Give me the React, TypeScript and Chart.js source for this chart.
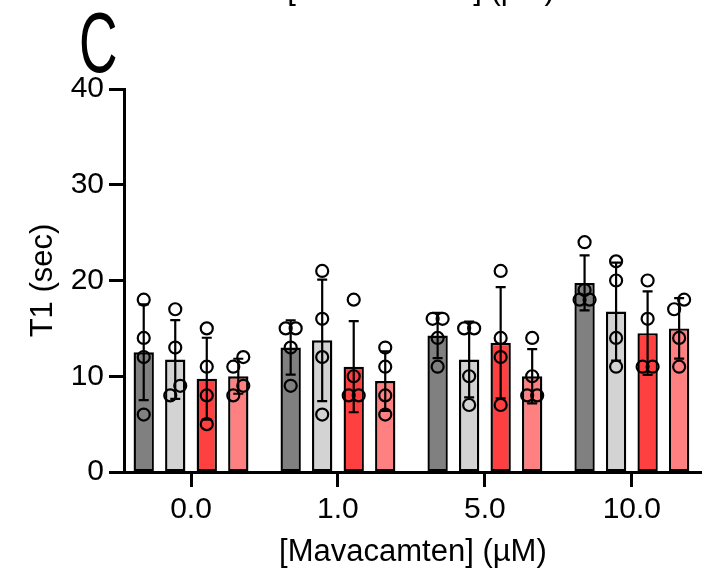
import React, { useEffect, useRef } from "react";
import { Chart, registerables } from "chart.js";

Chart.register(...registerables);

// ---- data ----
const doses = ["0.0", "1.0", "5.0", "10.0"];
const seriesNames = ["Series 1", "Series 2", "Series 3", "Series 4"];
// individual replicate values (T1, sec) per dose group
const darkGrayPoints = [
  [18, 14, 12, 6],
  [15, 15, 13, 9],
  [16, 16, 14, 11],
  [24, 19, 18, 18],
];
const lightGrayPoints = [
  [17, 13, 9, 8],
  [21, 16, 12, 6],
  [15, 15, 10, 7],
  [22, 20, 14, 11],
];
const redPoints = [
  [15, 11, 8, 5],
  [18, 10, 8, 8],
  [21, 14, 12, 7],
  [20, 16, 11, 11],
];
const pinkPoints = [
  [12, 11, 9, 8],
  [13, 11, 8, 6],
  [14, 10, 8, 8],
  [18, 17, 14, 11],
];
const yTicks = [0, 10, 20, 30, 40];
const xTitle = "[Mavacamten] (µM)";
const yTitle = "T1 (sec)";
const panelLetter = "C";
const clippedTitle = "[Mavacamten] (µM)";

// ---- styles ----
const FONT = "'Liberation Sans', Arial, Helvetica, sans-serif";
const COLORS = ["#808080", "#d3d3d3", "#ff4040", "#ff8080"];
const X_MIN = -0.456; // x range in group units (groups at 0..3)
const X_MAX = 3.476;
const GROUP_SPAN = 0.858; // fraction of a group taken by the 4 bars
const BAR_FILL = 0.645; // bar width / bar slot
const JIT = 0.034; // horizontal spread of overlapping points, in group units

function mean(a: number[]) {
  return a.reduce((s, v) => s + v, 0) / a.length;
}
function sd(a: number[]) {
  const m = mean(a);
  return Math.sqrt(a.reduce((s, v) => s + (v - m) * (v - m), 0) / (a.length - 1));
}
// spread points whose values nearly coincide, like GraphPad's scatter
function spread(values: number[]): number[] {
  const idx = values.map((_, i) => i).sort((a, b) => values[b] - values[a]);
  const off = new Array(values.length).fill(0);
  let k = 0;
  while (k < idx.length) {
    let e = k;
    while (e + 1 < idx.length && values[idx[e]] - values[idx[e + 1]] <= 1) e++;
    const n = e - k + 1;
    const pattern = n === 1 ? [0] : n === 2 ? [1, -1] : n === 3 ? [0, -1, 1] : [1, -1, 1, -1, 0];
    for (let t = 0; t < n; t++) off[idx[k + t]] = pattern[t % pattern.length];
    k = e + 1;
  }
  return off;
}
const slotX = (group: number, series: number) => group + ((series - 1.5) * GROUP_SPAN) / 4;

const allPoints = [darkGrayPoints, lightGrayPoints, redPoints, pinkPoints];

const errorBarPlugin = {
  id: "errorBars",
  afterDatasetDraw(chart: any, args: any) {
    const ds = chart.data.datasets[args.index];
    if (!ds.sdValues) return;
    const y = chart.scales.y;
    const ctx = chart.ctx;
    ctx.save();
    ctx.strokeStyle = "#000";
    ctx.lineWidth = 2.2;
    args.meta.data.forEach((bar: any, k: number) => {
      const m = ds.data[k].y;
      const s = ds.sdValues[k];
      const x = bar.x;
      const yt = y.getPixelForValue(m + s);
      const yb = y.getPixelForValue(m - s);
      ctx.beginPath();
      ctx.moveTo(x, yt);
      ctx.lineTo(x, yb);
      ctx.moveTo(x - 5, yt);
      ctx.lineTo(x + 5, yt);
      ctx.moveTo(x - 5, yb);
      ctx.lineTo(x + 5, yb);
      ctx.stroke();
    });
    ctx.restore();
  },
};

const textPlugin = {
  id: "extraText",
  afterDraw(chart: any) {
    const ctx = chart.ctx;
    ctx.save();
    ctx.fillStyle = "#000";
    // clipped title of the panel above
    ctx.font = `31px ${FONT}`;
    ctx.textAlign = "center";
    ctx.textBaseline = "alphabetic";
    ctx.fillText(clippedTitle, 421, -1);
    // panel letter
    ctx.translate(79, 72);
    ctx.scale(0.62, 1);
    ctx.font = `86px ${FONT}`;
    ctx.textAlign = "left";
    ctx.fillText(panelLetter, 0, 0);
    ctx.restore();
  },
};

export default function App() {
  const ref = useRef<HTMLCanvasElement | null>(null);

  useEffect(() => {
    if (!ref.current) return;
    const barDatasets = allPoints.map((pts, j) => ({
      type: "bar" as const,
      label: seriesNames[j],
      data: pts.map((grp, i) => ({ x: slotX(i, j), y: mean(grp) })),
      sdValues: pts.map(sd),
      backgroundColor: COLORS[j],
      borderColor: "#000",
      borderWidth: 2.4,
      borderSkipped: false,
      grouped: false,
      categoryPercentage: 1,
      barPercentage: BAR_FILL,
      order: 2,
      xAxisID: "x",
      yAxisID: "y",
    }));
    const pointDatasets = allPoints.map((pts, j) => ({
      type: "scatter" as const,
      label: seriesNames[j] + " points",
      data: pts.flatMap((grp, i) => {
        const off = spread(grp);
        return grp.map((v, k) => ({ x: slotX(i, j) + off[k] * JIT, y: v }));
      }),
      pointRadius: 6,
      pointBorderWidth: 2.2,
      pointBorderColor: "#000",
      pointBackgroundColor: "rgba(0,0,0,0)",
      showLine: false,
      clip: false,
      order: 1,
      xAxisID: "x",
      yAxisID: "y",
    }));

    const chart = new Chart(ref.current, {
      type: "bar",
      data: {
        datasets: [...barDatasets, ...pointDatasets] as any,
      },
      options: {
        responsive: false,
        animation: false,
        devicePixelRatio: 1,
        events: [],
        layout: { padding: { top: 89, right: 8, left: 0, bottom: 0 } },
        plugins: {
          legend: { display: false },
          tooltip: { enabled: false },
          title: { display: false },
        },
        scales: {
          x: {
            type: "linear",
            position: "bottom",
            offset: false,
            min: X_MIN,
            max: X_MAX,
            afterFit: (s: any) => {
              s.height = 106;
            },
            afterBuildTicks: (s: any) => {
              s.ticks = doses.map((_, i) => ({ value: i }));
            },
            grid: {
              display: true,
              offset: false,
              drawOnChartArea: false,
              drawTicks: true,
              tickLength: 15,
              tickWidth: 3,
              tickColor: "#000",
              color: "#000",
            },
            border: { display: true, color: "#000", width: 3 },
            ticks: {
              color: "#000",
              font: { family: FONT, size: 30 },
              padding: 5,
              maxRotation: 0,
              autoSkip: false,
              callback: (v: any) => doses[Math.round(Number(v))] ?? "",
            },
            title: {
              display: true,
              text: xTitle,
              color: "#000",
              font: { family: FONT, size: 31 },
              padding: { top: 0, bottom: 7 },
            },
          },
          y: {
            type: "linear",
            min: yTicks[0],
            max: yTicks[yTicks.length - 1],
            afterFit: (s: any) => {
              s.width = 124;
            },
            afterBuildTicks: (s: any) => {
              s.ticks = yTicks.map((v) => ({ value: v }));
            },
            grid: {
              display: true,
              drawOnChartArea: false,
              drawTicks: true,
              tickLength: 15,
              tickWidth: 3,
              tickColor: "#000",
              color: "#000",
            },
            border: { display: true, color: "#000", width: 3 },
            ticks: {
              color: "#000",
              font: { family: FONT, size: 30 },
              padding: 5,
            },
            title: {
              display: true,
              text: yTitle,
              color: "#000",
              font: { family: FONT, size: 31 },
              padding: { top: 25, bottom: 0 },
            },
          },
        },
      },
      plugins: [errorBarPlugin, textPlugin],
    } as any);

    return () => chart.destroy();
  }, []);

  return (
    <div
      style={{
        position: "fixed",
        left: 0,
        top: 0,
        width: 710,
        height: 578,
        background: "#fff",
      }}
    >
      <canvas ref={ref} width={710} height={578} style={{ display: "block" }} />
    </div>
  );
}
